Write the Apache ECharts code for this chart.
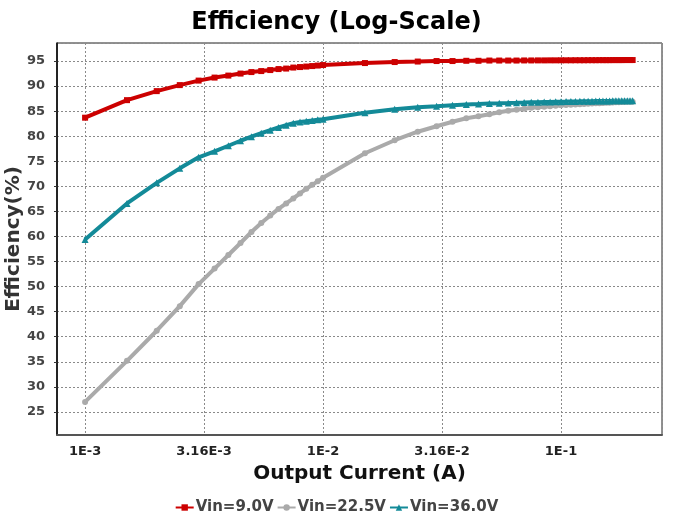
<!DOCTYPE html>
<html>
<head>
<meta charset="utf-8">
<script src="https://cdn.jsdelivr.net/npm/echarts@6/dist/echarts.min.js"></script>
<style>
  html, body { margin: 0; padding: 0; background: #fff; }
  #chart { width: 673px; height: 515px; }
</style>
</head>
<body>
<div id="chart"></div>
<script>
// Output current sweep (A)
const currentA = [0.001, 0.0015, 0.002, 0.0025, 0.003, 0.0035, 0.004, 0.0045, 0.005, 0.0055,
  0.006, 0.0065, 0.007, 0.0075, 0.008, 0.0085, 0.009, 0.0095, 0.01,
  0.015, 0.02, 0.025, 0.03, 0.035, 0.04, 0.045, 0.05, 0.055, 0.06, 0.065, 0.07, 0.075, 0.08,
  0.085, 0.09, 0.095, 0.1, 0.105, 0.11, 0.115, 0.12, 0.125, 0.13, 0.135, 0.14, 0.145, 0.15,
  0.155, 0.16, 0.165, 0.17, 0.175, 0.18, 0.185, 0.19, 0.195, 0.2];

// Efficiency (%) per input voltage
const effVin9 = [83.7, 87.2, 89.0, 90.2, 91.1, 91.7, 92.1, 92.5, 92.8, 93.0,
  93.2, 93.4, 93.5, 93.7, 93.8, 93.9, 94.0, 94.1, 94.2,
  94.6, 94.8, 94.9, 95.0, 95.0, 95.05, 95.05, 95.1, 95.1, 95.1, 95.1, 95.12, 95.12, 95.13,
  95.13, 95.14, 95.14, 95.15, 95.15, 95.15, 95.16, 95.16, 95.16, 95.17, 95.17, 95.17, 95.18, 95.18,
  95.18, 95.18, 95.19, 95.19, 95.19, 95.19, 95.2, 95.2, 95.2, 95.2];

const effVin22 = [27.0, 35.2, 41.2, 46.1, 50.5, 53.6, 56.3, 58.7, 60.9, 62.7,
  64.2, 65.5, 66.6, 67.6, 68.6, 69.5, 70.3, 71.0, 71.7,
  76.6, 79.2, 80.9, 82.0, 82.9, 83.6, 84.0, 84.4, 84.8, 85.1, 85.3, 85.5, 85.7, 85.8,
  85.9, 86.0, 86.1, 86.2, 86.25, 86.3, 86.35, 86.4, 86.45, 86.5, 86.55, 86.6, 86.6, 86.65,
  86.7, 86.7, 86.75, 86.8, 86.8, 86.85, 86.85, 86.9, 86.9, 86.9];

const effVin36 = [59.4, 66.6, 70.7, 73.6, 75.8, 77.0, 78.1, 79.1, 79.9, 80.6,
  81.2, 81.75, 82.2, 82.6, 82.85, 83.0, 83.15, 83.3, 83.4,
  84.7, 85.4, 85.8, 86.0, 86.2, 86.35, 86.45, 86.55, 86.6, 86.65, 86.7, 86.75, 86.8, 86.8,
  86.85, 86.85, 86.9, 86.9, 86.92, 86.95, 86.95, 86.97, 87.0, 87.0, 87.0, 87.02, 87.03, 87.04,
  87.05, 87.05, 87.06, 87.07, 87.08, 87.08, 87.09, 87.1, 87.1, 87.1];

const seriesNames = ['Vin=9.0V', 'Vin=22.5V', 'Vin=36.0V'];
const seriesColors = ['#cc0000', '#aaaaaa', '#138a98'];
const seriesSymbols = ['rect', 'circle', 'triangle'];
const seriesSymbolSizes = [6, 6, 7];
const seriesValues = [effVin9, effVin22, effVin36];

const FONT = '"DejaVu Sans", sans-serif';

// Tick labels on the log axis: decades and half-decades
function currentLabel(v) {
  const e = Math.log10(v);
  const r = Math.round(e * 2) / 2;
  if (Math.abs(e - r) > 1e-3) return '';
  if (Number.isInteger(r)) return '1E' + r;
  return '3.16E' + Math.floor(r);
}

const chart = echarts.init(document.getElementById('chart'), null, { renderer: 'canvas' });

chart.setOption({
  animation: false,
  backgroundColor: '#ffffff',
  title: {
    text: 'Efficiency (Log-Scale)',
    left: 'center',
    top: 6,
    textStyle: { fontFamily: FONT, fontSize: 24, fontWeight: 'bold', color: '#000' }
  },
  legend: {
    data: seriesNames,
    top: 495,
    left: 'center',
    itemWidth: 18,
    itemHeight: 8,
    itemGap: 3,
    textStyle: { fontFamily: FONT, fontSize: 15, fontWeight: 'bold', color: '#444', padding: [0, 0, 0, -3] }
  },
  grid: {
    left: 57, right: 11, top: 43, bottom: 80,
    containLabel: false,
    outerBoundsMode: 'none',
    show: true, borderColor: '#222', borderWidth: 1, backgroundColor: 'transparent'
  },
  xAxis: {
    type: 'log',
    logBase: Math.sqrt(10),
    min: 0.000762,
    max: 0.2657,
    name: 'Output Current (A)',
    nameLocation: 'middle',
    nameGap: 29,
    nameMoveOverlap: false,
    nameTextStyle: { fontFamily: FONT, fontSize: 20, fontWeight: 'bold', color: '#111' },
    axisLine: { show: true, lineStyle: { color: '#555', width: 2 } },
    axisTick: { show: false },
    axisLabel: {
      fontFamily: FONT, fontSize: 13, fontWeight: 'bold', color: '#222', margin: 10,
      showMinLabel: false, showMaxLabel: false,
      formatter: currentLabel
    },
    splitLine: { show: true, lineStyle: { color: '#8a8a8a', width: 1, type: [2, 2] } }
  },
  yAxis: {
    type: 'value',
    min: 20.4,
    max: 98.6,
    splitNumber: 15,
    minInterval: 5,
    maxInterval: 5,
    name: 'Efficiency(%)',
    nameLocation: 'middle',
    nameGap: 33,
    nameMoveOverlap: false,
    nameTextStyle: { fontFamily: FONT, fontSize: 20, fontWeight: 'bold', color: '#333' },
    axisLine: { show: true, lineStyle: { color: '#000', width: 1.5 } },
    axisTick: { show: true, length: 3, lineStyle: { color: '#333' } },
    axisLabel: {
      fontFamily: FONT, fontSize: 13, fontWeight: 'bold', color: '#444', margin: 12,
      showMinLabel: false, showMaxLabel: false
    },
    splitLine: { show: true, lineStyle: { color: '#8a8a8a', width: 1, type: [2, 2] } }
  },
  series: seriesNames.map((name, i) => ({
    name: name,
    type: 'line',
    data: currentA.map((x, k) => [x, seriesValues[i][k]]),
    symbol: seriesSymbols[i],
    symbolSize: seriesSymbolSizes[i],
    showSymbol: true,
    smooth: false,
    color: seriesColors[i],
    lineStyle: { color: seriesColors[i], width: 4 },
    itemStyle: { color: seriesColors[i] }
  }))
});
</script>
</body>
</html>
